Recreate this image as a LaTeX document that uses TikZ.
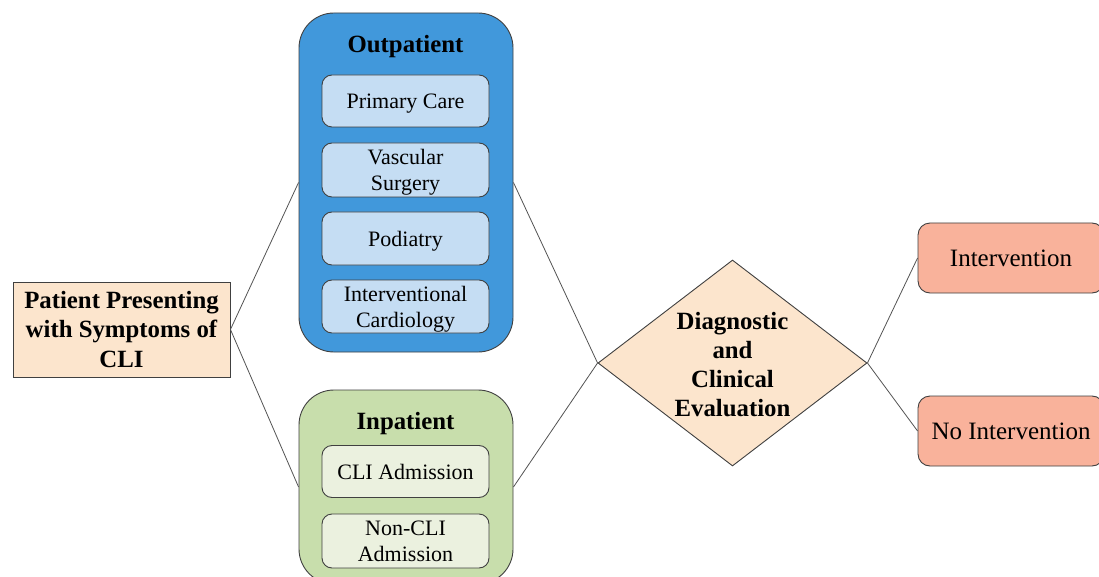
\documentclass[tikz,border=0pt]{standalone}
\usepackage{fontspec}
\setmainfont{Liberation Serif}[BoldFont={Liberation Serif Bold}]
\usetikzlibrary{shapes.geometric}
\definecolor{peach}{RGB}{252,229,205}
\definecolor{outblue}{RGB}{65,152,219}
\definecolor{liteblue}{RGB}{197,221,243}
\definecolor{ingreen}{RGB}{200,222,172}
\definecolor{litegreen}{RGB}{235,241,223}
\definecolor{salmon}{RGB}{249,178,155}
\definecolor{edge}{RGB}{64,64,64}
\tikzset{
  x=1pt, y=-1pt,
  box/.style={draw=edge, line width=0.9pt, inner sep=0pt, align=center},
  group/.style={box, rounded corners=35pt, minimum width=214pt},
  item/.style={box, rounded corners=10pt, minimum width=167pt, fill=liteblue,
     text depth=0pt, font=\fontsize{22}{26}\selectfont},
  gitem/.style={item, fill=litegreen},
  result/.style={box, rounded corners=12pt, fill=salmon, minimum width=186pt, minimum height=70pt,
     text depth=0pt, font=\fontsize{25}{28}\selectfont},
  title/.style={text depth=0pt, inner sep=0pt, font=\bfseries\fontsize{24.8}{28}\selectfont},
  link/.style={draw=edge!90, line width=0.8pt}
}
\begin{document}
\begin{tikzpicture}
\clip (0,0) rectangle (1099,577);
\fill[white] (0,0) rectangle (1099,577);
% left box
\node[box, fill=peach, minimum width=217pt, minimum height=95pt,
  font=\bfseries\fontsize{24.8}{29.5}\selectfont] (patient) at (121.5,329.5)
  {Patient Presenting\\with Symptoms of\\CLI};
% outpatient group
\node[group, fill=outblue, minimum height=339pt] (outp) at (406,182.5) {};
\node[title] (outt) at (405.5,43.5) {Outpatient};
\node[item, minimum height=52pt] (pc) at (405.5,101) {Primary Care};
\node[item, minimum height=54pt] (vs) at (405.5,170) {Vascular\\Surgery};
\node[item, minimum height=53pt] (pod) at (405.5,238.5) {Podiatry};
\node[item, minimum height=53pt] (ic) at (405.5,306.5) {Interventional\\Cardiology};
% inpatient group
\node[group, fill=ingreen, minimum height=194pt] (inp) at (406,487) {};
\node[title] (inpt) at (405.5,420.5) {Inpatient};
\node[gitem, minimum height=52pt] (cli) at (405.5,471.5) {CLI Admission};
\node[gitem, minimum height=54pt] (ncli) at (405.5,541) {Non-CLI\\Admission};
% diamond
\node[draw=edge, line width=0.9pt, fill=peach, diamond, inner sep=0pt,
  minimum width=269pt, minimum height=206pt] (diag) at (732.5,363) {};
\node[align=center, inner sep=0pt, font=\bfseries\fontsize{24.8}{29}\selectfont] (diagt) at (732.5,365)
  {Diagnostic\\and\\Clinical\\Evaluation};
% results
\node[result] (interv) at (1011,258) {Intervention};
\node[result] (nointerv) at (1011,431) {No Intervention};
% connectors
\draw[link] (patient.east) -- (outp.west);
\draw[link] (patient.east) -- (inp.west);
\draw[link] (outp.east) -- (diag.west);
\draw[link] (inp.east) -- (diag.west);
\draw[link] (diag.east) -- (interv.west);
\draw[link] (diag.east) -- (nointerv.west);
\end{tikzpicture}
\end{document}
